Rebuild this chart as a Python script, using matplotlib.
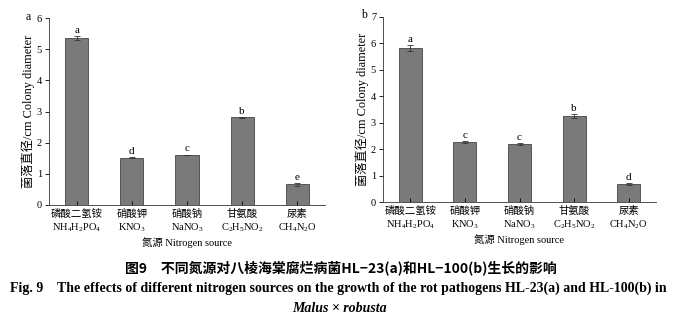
import numpy as np
import matplotlib
matplotlib.use('Agg')
import matplotlib.pyplot as plt

plt.rcParams['font.family'] = ['Liberation Serif', 'Noto Sans CJK SC']
plt.rcParams['mathtext.fontset'] = 'custom'
plt.rcParams['mathtext.rm'] = 'Liberation Serif'
plt.rcParams['mathtext.it'] = 'Liberation Serif:italic'

cn_names = ['磷酸二氢铵', '硝酸钾', '硝酸钠', '甘氨酸', '尿素']
formulas = [r'NH$_4$H$_2$PO$_4$', r'KNO$_3$', r'NaNO$_3$', r'C$_2$H$_5$NO$_2$', r'CH$_4$N$_2$O']

# HL-23 (a)
vals_a = [5.35, 1.52, 1.61, 2.81, 0.66]
err_a = [0.06, 0.02, 0.01, 0.01, 0.05]
sig_a = ['a', 'd', 'c', 'b', 'e']

# HL-100 (b)
vals_b = [5.83, 2.27, 2.19, 3.25, 0.67]
err_b = [0.11, 0.05, 0.05, 0.08, 0.04]
sig_b = ['a', 'c', 'c', 'b', 'd']

fig = plt.figure(figsize=(6.81, 3.22), dpi=100)
W, H = 681, 322


def panel(rect, vals, errs, sigs, ymax, tag, tag_xy):
    ax = fig.add_axes([rect[0] / W, 1 - rect[3] / H, (rect[2] - rect[0]) / W, (rect[3] - rect[1]) / H])
    x = np.arange(len(vals))
    ax.bar(x, vals, width=0.42, color='#7a7a7a', edgecolor='#444444', linewidth=0.6,
           yerr=errs, capsize=2, error_kw=dict(elinewidth=0.6, capthick=0.6, ecolor='#333333'))
    for xi, v, e, s in zip(x, vals, errs, sigs):
        ax.text(xi, v + e + 0.04, s, ha='center', va='bottom', fontsize=8)
    ax.set_xlim(-0.5, 4.5)
    ax.set_ylim(0, ymax)
    ax.set_yticks(range(ymax + 1))
    ax.spines['right'].set_visible(False)
    ax.spines['top'].set_visible(False)
    for sp in ax.spines.values():
        sp.set_linewidth(0.6)
        sp.set_color('#333333')
    ax.set_xticks(x)
    ax.set_xticklabels([c + '\n' + f for c, f in zip(cn_names, formulas)], fontsize=7.5, linespacing=1.3)
    ax.tick_params(axis='x', direction='in', length=3, width=0.6, pad=3)
    ax.tick_params(axis='y', direction='out', length=3, width=0.6, labelsize=7.5, pad=2)
    ax.set_xlabel('氮源 Nitrogen source', fontsize=7.5, labelpad=2)
    ax.set_ylabel('菌落直径/cm Colony diameter', fontsize=8.8, labelpad=1)
    fig.text(tag_xy[0] / W, 1 - tag_xy[1] / H, tag, fontsize=8.5, ha='center', va='center')
    return ax


panel((49, 18, 325, 205), vals_a, err_a, sig_a, 6, 'a', (28, 17))
panel((383, 17, 656, 202), vals_b, err_b, sig_b, 7, 'b', (364, 15))

fig.text(341 / W, 1 - 268 / H, '图9　不同氮源对八棱海棠腐烂病菌HL−23(a)和HL−100(b)生长的影响',
         ha='center', va='center', fontsize=10, fontweight='bold', family=['Noto Sans CJK SC'])
fig.text(338 / W, 1 - 288 / H,
         'Fig. 9    The effects of different nitrogen sources on the growth of the rot pathogens HL-23(a) and HL-100(b) in',
         ha='center', va='center', fontsize=10, fontweight='bold')
fig.text(340 / W, 1 - 309 / H, 'Malus × robusta',
         ha='center', va='center', fontsize=10, fontweight='bold', fontstyle='italic')

fig.savefig('out.png', dpi=100)
